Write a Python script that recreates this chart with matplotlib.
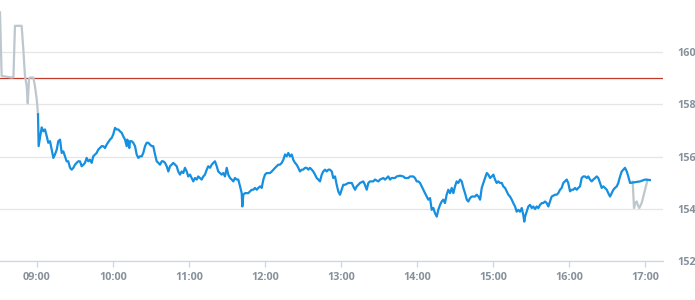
import numpy as np
import matplotlib
matplotlib.use("Agg")
import matplotlib.pyplot as plt

# minutes after 09:00 and price
pre_min = [-29.2, -27.9, -20.0, -18.6, -17.4, -12.1, -10.8, -9.5, -8.1, -7.3, -6.3, -5.5,
           -2.9, -1.6, -0.2, 0.8]
pre_px = [161.53, 159.09, 159.03, 159.04, 161.01, 161.01, 160.12, 159.09, 158.70, 158.04,
          158.96, 159.03, 159.03, 158.70, 158.19, 157.62]

post_min = [470.3, 471.3, 472.4, 473.5, 474.5, 475.5, 477.4, 478.7, 480.0, 481.4, 481.9]
post_px = [155.04, 154.03, 154.23, 154.28, 154.12, 154.03, 154.23, 154.47, 154.73, 154.99, 155.12]

day_min = [0.8, 1.3, 3.7, 5.0, 6.3, 7.7, 8.9, 10.3, 11.6, 12.9, 14.2, 15.6, 16.8, 18.2, 19.5,
           20.8, 22.1, 23.4, 24.7, 26.1, 27.4, 28.7, 30.0, 31.3, 32.6, 33.9, 35.3, 36.6, 37.9,
           39.2, 40.5, 41.8, 43.2, 44.4, 47.1, 48.4, 49.7, 51.1, 52.3, 53.7, 55.0, 57.6, 59.0,
           60.2, 61.6, 62.9, 64.2, 65.5, 66.9, 68.1, 69.5, 70.8, 71.3, 72.1, 72.9, 73.4, 74.8,
           76.0, 77.4, 78.7, 80.0, 81.3, 82.7, 83.9, 85.3, 86.6, 87.9, 89.2, 90.6, 91.8, 93.2,
           94.5, 95.8, 97.1, 98.5, 99.7, 101.1, 102.4, 103.7, 105.0, 106.3, 107.6, 109.0, 110.3,
           111.5, 112.9, 114.2, 115.5, 116.8, 118.2, 119.4, 120.8, 122.1, 123.4, 124.7, 126.1,
           127.3, 128.7, 130.0, 131.3, 132.6, 134.0, 135.2, 136.6, 137.9, 139.2, 140.5, 141.9,
           143.1, 144.5, 145.8, 147.1, 148.4, 149.8, 151.0, 152.4, 153.7, 155.0, 156.3, 157.7,
           158.9, 160.3, 161.6, 162.1, 162.9, 164.2, 166.8, 168.2, 169.5, 170.8, 172.1, 173.5,
           174.7, 176.1, 177.4, 178.7, 180.0, 181.3, 184.0, 185.3, 186.6, 188.0, 189.3, 190.5,
           191.8, 193.2, 194.5, 195.8, 197.1, 198.4, 199.7, 201.1, 202.3, 203.7, 205.0, 206.3,
           207.6, 209.0, 210.2, 211.6, 212.9, 214.2, 215.5, 216.9, 218.1, 219.5, 220.8, 222.1,
           223.4, 224.8, 226.0, 227.4, 228.7, 230.0, 231.3, 232.7, 233.9, 235.3, 236.6, 237.9,
           239.2, 240.5, 241.8, 243.2, 245.8, 248.5, 249.7, 251.1, 252.4, 253.7, 255.0, 257.6,
           258.9, 260.3, 261.6, 262.9, 265.5, 266.8, 269.4, 270.8, 273.4, 274.7, 276.1, 277.3,
           278.7, 280.0, 282.6, 284.0, 286.6, 289.2, 290.5, 293.1, 294.5, 297.1, 298.4, 299.8,
           301.0, 302.4, 303.7, 305.0, 306.3, 307.7, 308.9, 310.3, 311.6, 312.9, 314.2, 315.6,
           316.8, 318.2, 319.5, 320.8, 322.1, 323.4, 324.7, 326.1, 327.4, 328.7, 330.0, 331.3,
           332.6, 334.0, 335.3, 336.6, 337.9, 339.3, 340.5, 341.9, 343.2, 345.8, 347.1, 348.5,
           349.8, 351.1, 352.4, 353.7, 355.1, 356.3, 357.7, 359.0, 360.3, 361.6, 362.9, 364.2,
           365.5, 366.9, 368.1, 369.5, 370.8, 372.1, 373.4, 374.8, 376.0, 377.4, 378.7, 380.0,
           381.3, 382.7, 383.9, 384.7, 385.3, 386.6, 387.9, 389.2, 390.6, 391.8, 393.2, 394.5,
           395.8, 397.1, 398.5, 399.7, 401.1, 402.4, 403.7, 405.0, 406.3, 409.0, 410.3, 411.5,
           412.9, 414.2, 415.5, 416.8, 418.2, 419.4, 420.8, 422.1, 423.4, 424.7, 426.1, 427.3,
           428.7, 430.0, 431.3, 432.6, 434.0, 435.2, 436.6, 437.9, 439.2, 440.5, 441.9, 443.1,
           444.5, 445.8, 447.1, 448.4, 449.8, 451.0, 452.4, 453.7, 455.0, 456.3, 457.7, 458.9,
           460.3, 461.6, 462.9, 464.2, 465.6, 466.8, 468.2, 470.8, 476.1, 480.0, 483.9]
day_px = [157.62, 156.40, 157.12, 156.97, 157.04, 156.78, 156.53, 156.59, 156.27, 155.95, 156.08,
          156.27, 156.59, 156.65, 156.14, 156.20, 156.01, 155.82, 155.82, 155.57, 155.50, 155.57,
          155.69, 155.76, 155.82, 155.82, 155.63, 155.69, 155.76, 155.95, 155.82, 155.88, 155.76,
          156.01, 156.14, 156.27, 156.33, 156.40, 156.40, 156.33, 156.46, 156.65, 156.72, 156.85,
          157.10, 157.04, 157.04, 156.97, 156.91, 156.78, 156.65, 156.40, 156.65, 156.53, 156.33,
          156.59, 156.59, 156.53, 156.40, 156.08, 155.95, 156.01, 156.01, 156.14, 156.40, 156.53,
          156.53, 156.46, 156.40, 156.40, 156.08, 155.82, 155.76, 155.69, 155.82, 155.82, 155.76,
          155.63, 155.43, 155.63, 155.69, 155.76, 155.69, 155.63, 155.43, 155.31, 155.43, 155.37,
          155.57, 155.43, 155.24, 155.31, 155.18, 155.05, 155.18, 155.12, 155.24, 155.18, 155.12,
          155.24, 155.31, 155.50, 155.63, 155.57, 155.69, 155.76, 155.82, 155.63, 155.43, 155.37,
          155.31, 155.37, 155.24, 155.57, 155.31, 155.18, 155.12, 155.05, 155.18, 155.12, 155.12,
          154.86, 154.60, 154.09, 154.54, 154.60, 154.60, 154.67, 154.73, 154.73, 154.80, 154.73,
          154.80, 154.86, 154.80, 155.12, 155.31, 155.37, 155.37, 155.43, 155.50, 155.57, 155.63,
          155.69, 155.69, 155.76, 155.88, 156.08, 156.01, 156.14, 156.01, 156.08, 155.88, 155.76,
          155.69, 155.57, 155.43, 155.50, 155.50, 155.57, 155.57, 155.50, 155.57, 155.50, 155.43,
          155.31, 155.18, 155.12, 155.05, 155.31, 155.43, 155.50, 155.43, 155.50, 155.50, 155.43,
          155.18, 155.24, 154.92, 154.66, 154.54, 154.73, 154.92, 154.92, 154.99, 154.99, 154.86,
          154.73, 154.86, 154.92, 154.99, 155.05, 154.92, 154.73, 154.99, 155.05, 155.05, 155.12,
          155.05, 155.12, 155.18, 155.12, 155.18, 155.24, 155.12, 155.18, 155.18, 155.24, 155.27,
          155.24, 155.18, 155.18, 155.24, 155.24, 155.18, 155.05, 155.05, 154.99, 154.86, 154.73,
          154.60, 154.47, 154.35, 154.41, 153.96, 154.03, 153.83, 153.70, 153.96, 154.15, 154.28,
          154.35, 154.22, 154.54, 154.73, 154.60, 154.80, 154.60, 154.86, 155.05, 154.99, 155.12,
          155.05, 154.80, 154.60, 154.35, 154.28, 154.41, 154.47, 154.47, 154.54, 154.47, 154.35,
          154.80, 154.99, 155.18, 155.37, 155.31, 155.18, 155.24, 155.31, 155.12, 154.99, 155.05,
          154.99, 154.99, 154.86, 154.80, 154.67, 154.54, 154.47, 154.35, 154.22, 154.09, 153.89,
          153.96, 153.89, 154.03, 153.77, 153.51, 153.70, 153.89, 154.09, 154.15, 154.03, 154.09,
          153.99, 154.09, 154.03, 154.15, 154.22, 154.22, 154.28, 154.22, 154.09, 154.28, 154.47,
          154.54, 154.54, 154.60, 154.73, 154.80, 154.99, 155.05, 155.12, 154.99, 154.67, 154.73,
          154.73, 154.80, 154.73, 154.80, 154.86, 155.18, 155.24, 155.24, 155.18, 155.24, 155.12,
          155.05, 155.12, 155.18, 155.24, 155.18, 154.99, 154.80, 154.86, 154.80, 154.73, 154.60,
          154.47, 154.60, 154.73, 154.80, 154.86, 154.99, 155.24, 155.43, 155.50, 155.57, 155.43,
          155.24, 154.99, 155.01, 155.05, 155.12, 155.10]

prev_close = 159.0
hour_ticks = [0, 60, 120, 180, 240, 300, 360, 420, 480]
hour_labels = ["09:00", "10:00", "11:00", "12:00", "13:00", "14:00", "15:00", "16:00", "17:00"]
price_ticks = [152, 154, 156, 158, 160]

plt.rcParams['font.family'] = ['Open Sans', 'DejaVu Sans']

fig = plt.figure(figsize=(6.95, 3.0), dpi=100)
ax = fig.add_axes([0, 39 / 300, 663 / 695, 261 / 300])

ax.plot(pre_min, pre_px, color='#bdc7ce', lw=1.6, solid_joinstyle='round', zorder=3)
ax.plot(post_min, post_px, color='#bdc7ce', lw=1.6, solid_joinstyle='round', zorder=3)
ax.plot(day_min, day_px, color='#168fe0', lw=1.6, solid_joinstyle='round', zorder=4)
ax.axhline(prev_close, color='#c0392b', lw=0.9, zorder=2)

ax.set_xlim(-29.2, 494.2)
ax.set_ylim(152, 162)

ax.set_yticks(price_ticks)
ax.yaxis.tick_right()
ax.tick_params(axis='y', length=0, pad=10.5, labelsize=7.8, labelcolor='#86919b')
for lab in ax.get_yticklabels():
    lab.set_fontweight('bold')
ax.grid(axis='y', color='#e6e6e6', lw=0.9)

ax.set_xticks(hour_ticks)
ax.set_xticklabels(hour_labels, fontweight='bold')
ax.tick_params(axis='x', length=4, width=0.9, color='#ccd6eb', pad=4,
               labelsize=7.8, labelcolor='#86919b')

for side in ['top', 'left', 'right']:
    ax.spines[side].set_visible(False)
ax.spines['bottom'].set_color('#ccd6eb')
ax.spines['bottom'].set_linewidth(0.9)

fig.savefig('out.png', dpi=100)
